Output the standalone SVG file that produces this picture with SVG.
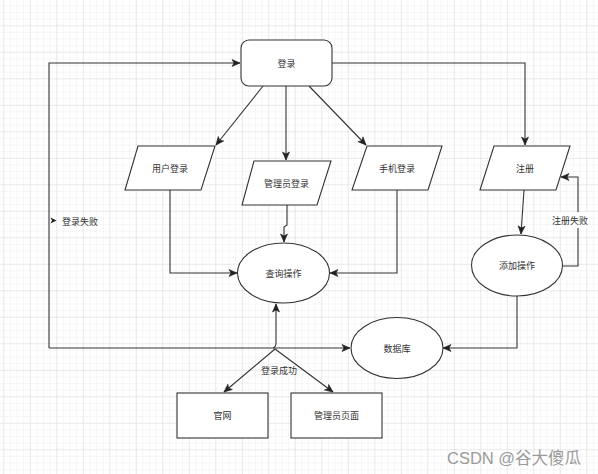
<svg xmlns="http://www.w3.org/2000/svg" width="598" height="474" viewBox="0 0 598 474">
<defs>
<pattern id="minor" patternUnits="userSpaceOnUse" x="3.3" y="25.3" width="6.625" height="6.625">
<path d="M0,0 L6.625,0 M0,0 L0,6.625" stroke="#eeeeee" stroke-width="1" fill="none"/>
</pattern>
<pattern id="major" patternUnits="userSpaceOnUse" x="3.3" y="25.3" width="26.5" height="26.5">
<path d="M0,0 L26.5,0 M0,0 L0,26.5" stroke="#dedede" stroke-width="1" fill="none"/>
</pattern>
<marker id="arr" markerUnits="userSpaceOnUse" markerWidth="10" markerHeight="10" viewBox="0 0 10 10" refX="9" refY="5" orient="auto">
<path d="M1,1.5 L9,5 L1,8.5 L3,5 Z" fill="#222" stroke="#222" stroke-width="0.6"/>
</marker>
</defs>
<style>
.ln{fill:none;stroke:#333;stroke-width:1.1}
.nd{fill:#fff;stroke:#333;stroke-width:1.1}
.tx{font-family:"Noto Sans CJK SC","Noto Sans",sans-serif;font-size:9px;fill:#333;text-anchor:middle;dominant-baseline:central}
.lb{font-family:"Noto Sans CJK SC","Noto Sans",sans-serif;font-size:9px;fill:#333;dominant-baseline:central}
</style>
<rect x="0" y="0" width="598" height="474" fill="#fff"/>
<rect x="0" y="0" width="598" height="474" fill="url(#minor)"/>
<rect x="0" y="0" width="598" height="474" fill="url(#major)"/>

<g id="connectors">
<path class="ln" d="M263,86 L216,145" marker-end="url(#arr)"/>
<path class="ln" d="M286,86 L286,160" marker-end="url(#arr)"/>
<path class="ln" d="M309,86 L366,145" marker-end="url(#arr)"/>
<path class="ln" d="M332,63 L525,63 L525,145" marker-end="url(#arr)"/>
<path class="ln" d="M170,190 L170,273 L237,273" marker-end="url(#arr)"/>
<path class="ln" d="M287,205 L287,225 L284,227 L284,242" marker-end="url(#arr)"/>
<path class="ln" d="M397,190 L397,273 L330,273" marker-end="url(#arr)"/>
<path class="ln" d="M524,190 L521,234" marker-end="url(#arr)"/>
<path class="ln" d="M563,266 L578,266 L578,177 L561,177" marker-end="url(#arr)"/>
<path class="ln" d="M517,296 L517,348 L443,348" marker-end="url(#arr)"/>
<path class="ln" d="M49,348 L350,348" marker-end="url(#arr)"/>
<path class="ln" d="M49,348 L49,63 L240,63" marker-end="url(#arr)"/>
<path class="ln" d="M273,348 Q276,347 276,343 L276,304" marker-end="url(#arr)"/>
<path class="ln" d="M275,349 L224,392" marker-end="url(#arr)"/>
<path class="ln" d="M275,349 L333,392" marker-end="url(#arr)"/>
<path d="M50.5,217.5 L56.5,220.5 L50.5,223.5 L52,220.5 Z" fill="#222"/>
<text class="lb" x="62" y="221">登录失败</text>
<rect x="552" y="212" width="36" height="16" fill="#fff"/>
<text class="tx" x="570" y="220">注册失败</text>
<text class="tx" x="279" y="370">登录成功</text>
</g>

<g id="login">
<rect class="nd" x="241" y="40" width="91" height="46" rx="8"/>
<text class="tx" x="286.5" y="63">登录</text>
</g>
<g id="user-login">
<polygon class="nd" points="138,146 215,146 201,190 125,190"/>
<text class="tx" x="170" y="168">用户登录</text>
</g>
<g id="admin-login">
<polygon class="nd" points="254,161 331,161 317,205 242,205"/>
<text class="tx" x="286.5" y="183">管理员登录</text>
</g>
<g id="phone-login">
<polygon class="nd" points="367,146 442,146 428,190 352,190"/>
<text class="tx" x="397" y="168">手机登录</text>
</g>
<g id="register">
<polygon class="nd" points="494,146 570,146 556,190 480,190"/>
<text class="tx" x="525" y="168">注册</text>
</g>
<g id="query">
<ellipse class="nd" cx="283.5" cy="273" rx="46" ry="30"/>
<text class="tx" x="283.5" y="273">查询操作</text>
</g>
<g id="add">
<ellipse class="nd" cx="517" cy="265.5" rx="45.5" ry="30.5"/>
<text class="tx" x="517" y="265.5">添加操作</text>
</g>
<g id="database">
<ellipse class="nd" cx="397" cy="348" rx="46" ry="30.5"/>
<text class="tx" x="397" y="348">数据库</text>
</g>
<g id="website">
<rect class="nd" x="177" y="393" width="91" height="45"/>
<text class="tx" x="222.5" y="415.5">官网</text>
</g>
<g id="admin-page">
<rect class="nd" x="291" y="393" width="91" height="45"/>
<text class="tx" x="336.5" y="415.5">管理员页面</text>
</g>
<text x="447" y="464" font-family="Liberation Sans, Noto Sans CJK SC, sans-serif" font-size="16.5" fill="#9a9a9a">CSDN @谷大傻瓜</text>
</svg>
